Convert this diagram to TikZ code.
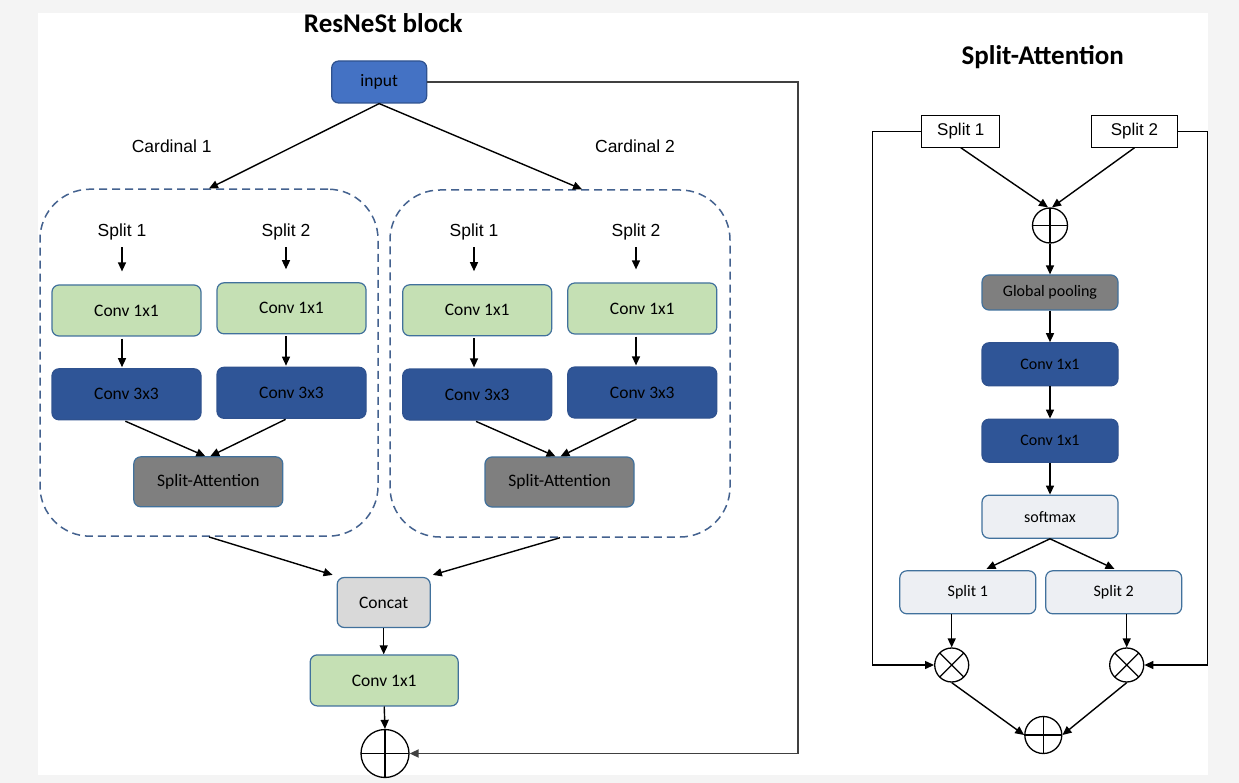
\documentclass[tikz,border=0pt]{standalone}
\usepackage{fontspec}
\setmainfont{Carlito}
\newfontfamily\arialf{Liberation Sans}
\usetikzlibrary{arrows.meta,calc}
\definecolor{bgc}{HTML}{F4F4F4}
\definecolor{inputf}{HTML}{4472C4}
\definecolor{inputd}{HTML}{2F528F}
\definecolor{greenf}{HTML}{C5E0B4}
\definecolor{boxline}{HTML}{41719C}
\definecolor{darkbl}{HTML}{2F5597}
\definecolor{darkbld}{HTML}{2F528F}
\definecolor{grayf}{HTML}{7F7F7F}
\definecolor{concatf}{HTML}{D9D9D9}
\definecolor{softf}{HTML}{EDEFF3}
\definecolor{dashc}{HTML}{44628F}
\definecolor{skipc}{HTML}{404040}
\begin{document}
\begin{tikzpicture}[x=1pt,y=-1pt,
  arr/.style={draw=black, line width=1.4pt, -{Triangle[length=9pt,width=8pt]}},
  nbox/.style={rectangle, rounded corners=7pt, draw=boxline, line width=1.2pt, inner sep=0pt, text=black, font=\fontsize{17.5}{20}\selectfont},
  bigb/.style={nbox, minimum width=149pt, minimum height=51pt},
  greenb/.style={bigb, fill=greenf},
  blueb/.style={bigb, fill=darkbl, draw=darkbld},
  grayb/.style={bigb, fill=grayf},
  sbox/.style={nbox, minimum width=136pt, minimum height=43pt, font=\fontsize{16}{19}\selectfont},
  rbox/.style={rectangle, draw=black, line width=1.1pt, fill=white, minimum width=78pt, minimum height=32pt, inner sep=0pt, font=\arialf\fontsize{17}{20}\selectfont},
  lbl/.style={font=\arialf\fontsize{17.5}{20}\selectfont, inner sep=1pt},
  cardbox/.style={draw=dashc, dash pattern=on 8pt off 5pt, line width=1.5pt, rounded corners=50pt, minimum width=338pt, minimum height=347pt, inner sep=0pt},
  circn/.style={circle, draw=black, line width=1.3pt, inner sep=0pt, fill=white},
  oplusn/.style={circn, path picture={\draw[line width=1.3pt] (path picture bounding box.north) -- (path picture bounding box.south) (path picture bounding box.west) -- (path picture bounding box.east);}},
  otimesn/.style={circn, path picture={\draw[line width=1.3pt] (path picture bounding box.north west) -- (path picture bounding box.south east) (path picture bounding box.south west) -- (path picture bounding box.north east);}},
  skipln/.style={draw=skipc, line width=1.8pt, -{Triangle[length=9pt,width=8pt]}},
  sideln/.style={draw=black, line width=1.2pt, -{Triangle[length=9pt,width=8pt]}},
  titlef/.style={font=\bfseries\fontsize{27}{31}\selectfont, inner sep=0pt}
]
\useasboundingbox (0,0) rectangle (1239,783);
\fill[bgc] (0,0) rectangle (1239,783);
\fill[white] (38,13) rectangle (1208,775);

% titles
\node[titlef] (t1) at (383.3,23.3) {ResNeSt block};
\node[titlef] (t2) at (1042.7,56.7) {Split-Attention};

% input and cardinal labels
\node[nbox, fill=inputf, draw=inputd, minimum width=95pt, minimum height=42pt] (inp) at (379.2,82) {input};
\node[lbl] (cl1) at (171.7,146.7) {Cardinal 1};
\node[lbl] (cl2) at (635,146.7) {Cardinal 2};

% cardinal groups
\node[cardbox] (card1) at (209,362.7) {};
\node[cardbox, minimum width=340pt] (card2) at (560,363.5) {};

% cardinal 1
\node[lbl] (al1) at (122,232) {Split 1};
\node[lbl] (al2) at (286,232) {Split 2};
\node[greenb] (a11) at (126.5,310.5) {Conv 1x1};
\node[greenb] (a21) at (291.5,308.3) {Conv 1x1};
\node[blueb] (a13) at (126.5,394.3) {Conv 3x3};
\node[blueb] (a23) at (291.5,392.8) {Conv 3x3};
\node[grayb, minimum height=50pt] (asa) at (208.3,481.8) {Split-Attention};

% cardinal 2
\node[lbl] (bl1) at (474,232) {Split 1};
\node[lbl] (bl2) at (636,232) {Split 2};
\node[greenb] (b11) at (477.2,310.3) {Conv 1x1};
\node[greenb] (b21) at (642.3,308.5) {Conv 1x1};
\node[blueb] (b13) at (477.2,394.5) {Conv 3x3};
\node[blueb] (b23) at (642.3,392.5) {Conv 3x3};
\node[grayb, minimum height=50pt] (bsa) at (559.5,482) {Split-Attention};

% bottom
\node[nbox, fill=concatf, minimum width=93pt, minimum height=50pt] (concat) at (383.7,602.5) {Concat};
\node[greenb, minimum width=148pt] (convf) at (384.2,680.4) {Conv 1x1};
\node[oplusn, minimum size=48pt] (sum) at (385,753.5) {};
\coordinate (skipc) at (797.7,400);

% left connectors
\draw[arr] (inp.south) -- (card1.north);
\draw[arr] (inp.south) -- ([xshift=22pt]card2.north);
\foreach \l/\c in {al1/a11, al2/a21, bl1/b11, bl2/b21}{
  \draw[arr, shorten <=6pt, shorten >=13pt] (\l.south) -- (\l.south |- \c.north);
}
\draw[arr, shorten <=2pt, shorten >=1pt] (a11.south -| al1) -- (a13.north -| al1);
\draw[arr, shorten <=2pt, shorten >=1pt] (a21.south -| al2) -- (a23.north -| al2);
\draw[arr, shorten <=2pt, shorten >=1pt] (b11.south -| bl1) -- (b13.north -| bl1);
\draw[arr, shorten <=2pt, shorten >=1pt] (b21.south -| bl2) -- (b23.north -| bl2);
\draw[arr, shorten <=2pt] ([xshift=-3pt]a13.south) -- ([xshift=-3pt]asa.north);
\draw[arr, shorten <=1pt] ([xshift=-5pt]a23.south) -- ([xshift=2pt]asa.north);
\draw[arr, shorten <=2pt] ([xshift=-3pt]b13.south) -- ([xshift=-4pt]bsa.north);
\draw[arr, shorten <=1pt] ([xshift=-5pt]b23.south) -- ([xshift=1pt]bsa.north);
\draw[arr] (card1.south) -- ([xshift=-4pt,yshift=2pt]concat.north west);
\draw[arr] (card2.south) -- ([xshift=2pt,yshift=2pt]concat.north east);
\draw[arr] (concat.south) -- (concat.south |- convf.north);
\draw[arr] (convf.south) -- (sum.north);
\draw[skipln] (inp.east) -| (skipc) |- (sum.east);

% right panel
\node[rbox] (rs1) at (960.8,131.2) {Split 1};
\node[rbox, minimum width=86pt] (rs2) at (1134.5,131.2) {Split 2};
\node[oplusn, minimum size=35pt] (radd) at (1050,225.5) {};
\node[sbox, fill=grayf, minimum height=35pt] (gp) at (1050,292.5) {Global pooling};
\node[sbox, fill=darkbl, draw=darkbld] (rc1) at (1050,364.3) {Conv 1x1};
\node[sbox, fill=darkbl, draw=darkbld] (rc2) at (1050,440.7) {Conv 1x1};
\node[sbox, fill=softf] (sm) at (1050,516.7) {softmax};
\node[sbox, fill=softf] (ss1) at (967.8,592.3) {Split 1};
\node[sbox, fill=softf] (ss2) at (1113.7,592.3) {Split 2};
\node[otimesn, minimum size=34pt] (m1) at (951.7,665) {};
\node[otimesn, minimum size=34pt] (m2) at (1126.7,665) {};
\node[oplusn, minimum size=37pt] (rsum) at (1043.3,735) {};
\coordinate (lside) at (872.7,400);
\coordinate (rside) at (1207.7,400);

\draw[arr] (rs1.south) -- ([xshift=-2pt]radd.north);
\draw[arr] (rs2.south) -- ([xshift=2pt]radd.north);
\draw[arr] (radd.south) -- (gp.north);
\draw[arr] (gp.south) -- (rc1.north);
\draw[arr] (rc1.south) -- (rc2.north);
\draw[arr] (rc2.south) -- (sm.north);
\draw[arr, shorten >=3pt] (sm.south) -- ([xshift=16pt]ss1.north);
\draw[arr, shorten >=3pt] (sm.south) -- ([xshift=3.5pt]ss2.north);
\draw[arr] (ss1.south -| m1) -- (m1.north);
\draw[arr] (ss2.south -| m2) -- (m2.north);
\draw[sideln] (rs1.west) -| (lside) |- (m1.west);
\draw[sideln] (rs2.east) -| (rside) |- (m2.east);
\draw[arr] (m1.south) -- (rsum.west);
\draw[arr] (m2.south) -- (rsum.east);
\end{tikzpicture}
\end{document}
